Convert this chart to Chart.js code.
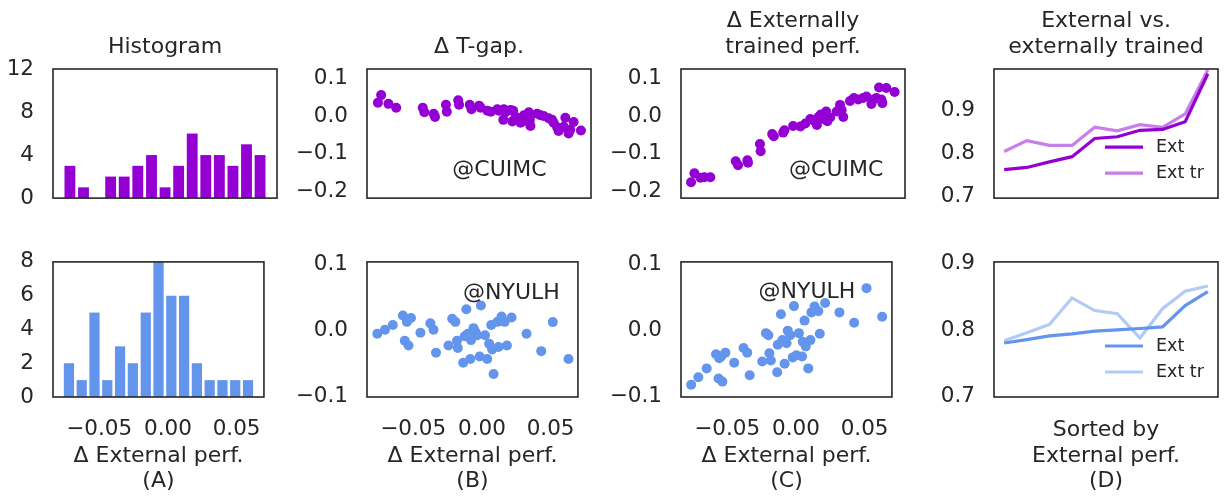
<!DOCTYPE html>
<html>
<head>
<meta charset="utf-8">
<script src="https://cdn.jsdelivr.net/npm/chart.js@4.4.1/dist/chart.umd.min.js"></script>
<style>
  body { margin: 0; background: #fff; width: 1225px; height: 498px; overflow: hidden; position: relative; }
  canvas { position: absolute; }
</style>
</head>
<body>
<canvas id="histTop" width="305" height="230" style="left:-22px;top:0"></canvas>
<canvas id="gapTop" width="305" height="230" style="left:292px;top:0"></canvas>
<canvas id="trTop" width="305" height="230" style="left:606px;top:0"></canvas>
<canvas id="sortTop" width="305" height="230" style="left:919px;top:0"></canvas>
<canvas id="histBot" width="305" height="268" style="left:-22px;top:230px"></canvas>
<canvas id="gapBot" width="305" height="268" style="left:292px;top:230px"></canvas>
<canvas id="trBot" width="305" height="268" style="left:606px;top:230px"></canvas>
<canvas id="sortBot" width="305" height="268" style="left:919px;top:230px"></canvas>
<script>
// histogram bins (centre of each bin, delta external perf.)
const binCenters = [-0.0720, -0.0627, -0.0534, -0.0441, -0.0348, -0.0255, -0.0161, -0.0068,
                    0.0025, 0.0118, 0.0211, 0.0304, 0.0397, 0.0490, 0.0583];
const histCuimc = [3, 1, 0, 2, 2, 3, 4, 1, 3, 6, 4, 4, 3, 5, 4];
const histNyulh = [2, 1, 5, 1, 3, 2, 5, 8, 6, 6, 2, 1, 1, 1, 1];

// [delta external perf, delta T-gap]
const tgapCuimc = [
  [-0.0761, 0.0356], [-0.0739, 0.0556], [-0.0689, 0.0324], [-0.0636, 0.0219], [-0.0454, 0.0219],
  [-0.0443, 0.0099], [-0.0379, 0.0060], [-0.0370, -0.0022], [-0.0295, 0.0300], [-0.0289, 0.0115],
  [-0.0211, 0.0420], [-0.0205, 0.0300], [-0.0132, 0.0300], [-0.0120, 0.0180], [-0.0068, 0.0276],
  [-0.0057, 0.0219], [-0.0011, 0.0140], [0.0012, 0.0115], [0.0057, 0.0180], [0.0068, 0.0140],
  [0.0102, 0.0180], [0.0114, 0.0099], [0.0098, -0.0101], [0.0148, 0.0163], [0.0166, 0.0140],
  [0.0160, -0.0142], [0.0182, -0.0022], [0.0216, -0.0180], [0.0239, 0.0019], [0.0250, -0.0125],
  [0.0273, 0.0099], [0.0280, -0.0101], [0.0284, -0.0262], [0.0330, 0.0060], [0.0353, 0.0019],
  [0.0375, 0.0003], [0.0409, -0.0060], [0.0432, -0.0101], [0.0443, -0.0180], [0.0467, -0.0300],
  [0.0477, -0.0397], [0.0512, -0.0286], [0.0523, -0.0046], [0.0546, -0.0462], [0.0557, -0.0365],
  [0.0580, -0.0157], [0.0630, -0.0382]
];
const tgapNyulh = [
  [-0.0761, -0.0048], [-0.0705, 0.0014], [-0.0648, 0.0086], [-0.0575, 0.0229], [-0.0546, 0.0133],
  [-0.0516, 0.0190], [-0.0561, -0.0152], [-0.0534, -0.0224], [-0.0447, -0.0033], [-0.0375, 0.0110],
  [-0.0352, 0.0014], [-0.0334, -0.0333], [-0.0243, -0.0224], [-0.0216, 0.0181], [-0.0193, 0.0133],
  [-0.0181, -0.0152], [-0.0175, -0.0262], [-0.0136, -0.0486], [-0.0113, 0.0324], [-0.0125, -0.0086],
  [-0.0102, -0.0048], [-0.0084, -0.0429], [-0.0079, -0.0143], [-0.0061, 0.0038], [-0.0045, -0.0024],
  [-0.0034, -0.0071], [-0.0016, -0.0390], [-0.0007, 0.0381], [0.0023, -0.0071], [0.0039, -0.0429],
  [0.0053, -0.0200], [0.0068, 0.0086], [0.0075, -0.0286], [0.0085, -0.0657], [0.0114, 0.0133],
  [0.0121, -0.0248], [0.0143, 0.0214], [0.0166, 0.0133], [0.0182, -0.0224], [0.0216, 0.0200],
  [0.0325, -0.0048], [0.0432, -0.0310], [0.0516, 0.0129], [0.0630, -0.0429]
];

// [delta external perf, delta externally trained perf]
const trCuimc = [
  [-0.0767, -0.1760], [-0.0744, -0.1520], [-0.0703, -0.1640], [-0.0676, -0.1624], [-0.0635, -0.1624],
  [-0.0461, -0.1200], [-0.0445, -0.1304], [-0.0381, -0.1176], [-0.0377, -0.1240], [-0.0295, -0.0744],
  [-0.0290, -0.0936], [-0.0211, -0.0480], [-0.0200, -0.0536], [-0.0136, -0.0440], [-0.0127, -0.0376],
  [-0.0068, -0.0264], [-0.0018, -0.0280], [0.0016, -0.0200], [0.0050, -0.0080], [0.0072, -0.0120],
  [0.0095, -0.0240], [0.0106, -0.0024], [0.0122, 0.0040], [0.0140, -0.0080], [0.0159, 0.0120],
  [0.0167, -0.0136], [0.0186, -0.0040], [0.0231, 0.0120], [0.0254, 0.0296], [0.0265, 0.0160],
  [0.0276, -0.0024], [0.0322, 0.0400], [0.0349, 0.0480], [0.0378, 0.0440], [0.0412, 0.0480],
  [0.0435, 0.0520], [0.0469, 0.0320], [0.0485, 0.0440], [0.0503, 0.0480], [0.0537, 0.0440],
  [0.0544, 0.0344], [0.0521, 0.0760], [0.0571, 0.0744], [0.0628, 0.0640]
];
const trNyulh = [
  [-0.0762, -0.0819], [-0.0710, -0.0705], [-0.0649, -0.0571], [-0.0581, -0.0357], [-0.0558, -0.0419],
  [-0.0544, -0.0390], [-0.0513, -0.0333], [-0.0563, -0.0724], [-0.0535, -0.0771], [-0.0449, -0.0486],
  [-0.0381, -0.0262], [-0.0354, -0.0333], [-0.0336, -0.0676], [-0.0245, -0.0467], [-0.0218, -0.0038],
  [-0.0200, -0.0071], [-0.0193, -0.0343], [-0.0182, -0.0452], [-0.0136, -0.0629], [-0.0132, -0.0214],
  [-0.0109, 0.0248], [-0.0098, -0.0143], [-0.0082, -0.0500], [-0.0068, -0.0190], [-0.0059, 0.0000],
  [-0.0041, -0.0071], [-0.0023, -0.0405], [-0.0014, 0.0371], [0.0004, -0.0371], [0.0022, -0.0038],
  [0.0045, -0.0390], [0.0050, -0.0167], [0.0063, 0.0152], [0.0072, -0.0238], [0.0090, -0.0571],
  [0.0106, -0.0143], [0.0113, 0.0276], [0.0136, 0.0367], [0.0163, 0.0295], [0.0174, -0.0048],
  [0.0213, 0.0419], [0.0317, 0.0276], [0.0424, 0.0119], [0.0514, 0.0643], [0.0628, 0.0210]
];

// sorted by external perf.
const ranks = [1, 2, 3, 4, 5, 6, 7, 8, 9, 10];
const extCuimc   = [0.763, 0.768, 0.781, 0.793, 0.835, 0.839, 0.854, 0.856, 0.874, 0.985];
const extTrCuimc = [0.805, 0.830, 0.819, 0.819, 0.861, 0.853, 0.867, 0.861, 0.892, 0.994];
const extNyulh   = [0.7805, 0.7857, 0.7914, 0.7943, 0.7986, 0.8005, 0.8024, 0.8048, 0.837, 0.858];
const extTrNyulh = [0.784, 0.796, 0.8086, 0.8486, 0.8295, 0.8248, 0.788, 0.8324, 0.8586, 0.8667];

const INK = '#262626';
const PURPLE = '#9400D3';
const PURPLE_LT = 'rgba(148, 0, 211, 0.5)';
const BLUE = '#6495ED';
const BLUE_LT = 'rgba(100, 149, 237, 0.5)';

Chart.defaults.font.family = '"DejaVu Sans", sans-serif';
Chart.defaults.font.size = 22;
Chart.defaults.color = INK;
Chart.defaults.animation = false;
Chart.defaults.plugins.legend.display = false;
Chart.defaults.plugins.tooltip.enabled = false;

const fmt = (digits) => (v) => {
  const r = Math.abs(v) < 1e-9 ? 0 : v;
  return r.toFixed(digits).replace('-', '\u2212');
};

// box round each plot area
const frame = {
  id: 'frame',
  afterDraw(chart) {
    const { ctx, chartArea: a } = chart;
    ctx.save();
    ctx.strokeStyle = INK;
    ctx.lineWidth = 1.6;
    ctx.strokeRect(a.left, a.top, a.right - a.left, a.bottom - a.top);
    ctx.restore();
  }
};

// "@CUIMC" / "@NYULH" text inside the plot
const tag = {
  id: 'tag',
  afterDatasetsDraw(chart, args, o) {
    if (!o || !o.text) return;
    const { ctx, chartArea: a } = chart;
    ctx.save();
    ctx.font = '22px "DejaVu Sans"';
    ctx.fillStyle = INK;
    ctx.textAlign = 'center';
    ctx.textBaseline = 'middle';
    ctx.fillText(o.text, a.left + o.fx * (a.right - a.left), a.top + o.fy * (a.bottom - a.top));
    ctx.restore();
  }
};

// legend at lower right of the sorted panels
const lineKey = {
  id: 'lineKey',
  afterDraw(chart, args, o) {
    if (!o || !o.show) return;
    const { ctx, chartArea: a } = chart;
    ctx.save();
    ctx.font = '17.5px "DejaVu Sans"';
    ctx.textAlign = 'left';
    ctx.textBaseline = 'middle';
    chart.data.datasets.forEach((ds, i) => {
      const y = a.bottom - 51 + i * 26;
      ctx.strokeStyle = ds.borderColor;
      ctx.lineWidth = 3.2;
      ctx.beginPath();
      ctx.moveTo(a.right - 113, y);
      ctx.lineTo(a.right - 75, y);
      ctx.stroke();
      ctx.fillStyle = INK;
      ctx.fillText(ds.label, a.right - 62, y);
    });
    ctx.restore();
  }
};

function titleOpt(text) {
  const lines = Array.isArray(text) ? text.length : 1;
  return {
    display: !!text,
    text: text,
    fullSize: false,
    color: INK,
    font: { size: 22, weight: 'normal', lineHeight: '25.5px' },
    padding: lines === 2 ? { top: 8.75, bottom: 9.25 } : { top: 34.25, bottom: 9.25 }
  };
}

function extAxis(bottomRow, label) {
  return {
    type: 'linear', min: -0.0836, max: 0.0699, offset: false,
    grid: { display: false, drawTicks: false }, border: { display: false },
    ticks: { display: bottomRow, stepSize: 0.05, includeBounds: false, padding: 20,
             font: { size: 21.5 }, maxRotation: 0, callback: fmt(2) },
    title: { display: bottomRow, text: ['\u0394 External perf.', label],
             padding: { top: 0, bottom: 3.5 }, font: { size: 22, lineHeight: '25.5px' } },
    afterFit: (s) => { s.height = bottomRow ? 101 : 18; }
  };
}

function valAxis(min, max, step, digits) {
  return {
    type: 'linear', min: min, max: max,
    grid: { display: false, drawTicks: false }, border: { display: false },
    ticks: { stepSize: step, includeBounds: false, padding: 19, font: { size: 21.5 },
             callback: digits === 0 ? (v) => String(v) : fmt(digits) },
    afterFit: (s) => { s.width = 75; }
  };
}

function layoutFor(bottomRow) {
  return { padding: { top: bottomRow ? 24 : 0, right: 6, bottom: 0, left: 0 } };
}

function histChart(id, counts, color, bottomRow, title, yMax, yStep) {
  return new Chart(document.getElementById(id), {
    type: 'bar',
    data: {
      datasets: [{
        data: binCenters.map((c, i) => ({ x: c, y: counts[i] })),
        backgroundColor: color,
        borderWidth: 0,
        barPercentage: 0.8,
        categoryPercentage: 1.0
      }]
    },
    options: {
      responsive: false,
      layout: layoutFor(bottomRow),
      plugins: { title: titleOpt(title) },
      scales: {
        x: extAxis(bottomRow, '(A)'),
        y: valAxis(0, yMax, yStep, 0)
      }
    },
    plugins: [frame]
  });
}

function scatterChart(id, pts, color, bottomRow, title, label, yMin, yMax, tagOpt) {
  return new Chart(document.getElementById(id), {
    type: 'scatter',
    data: {
      datasets: [{
        data: pts.map((p) => ({ x: p[0], y: p[1] })),
        backgroundColor: color,
        borderWidth: 0,
        pointRadius: 5,
        pointHoverRadius: 5
      }]
    },
    options: {
      responsive: false,
      layout: layoutFor(bottomRow),
      plugins: { title: titleOpt(title), tag: tagOpt },
      scales: {
        x: extAxis(bottomRow, label),
        y: valAxis(yMin, yMax, 0.1, 1)
      }
    },
    plugins: [tag, frame]
  });
}

function sortedChart(id, ext, extTr, color, colorLt, bottomRow, title, yMin, yMax) {
  return new Chart(document.getElementById(id), {
    type: 'line',
    data: {
      datasets: [
        { label: 'Ext', data: ranks.map((r, i) => ({ x: r, y: ext[i] })),
          borderColor: color, borderWidth: 3.2, pointRadius: 0, tension: 0 },
        { label: 'Ext tr', data: ranks.map((r, i) => ({ x: r, y: extTr[i] })),
          borderColor: colorLt, borderWidth: 3.2, pointRadius: 0, tension: 0 }
      ]
    },
    options: {
      responsive: false,
      layout: layoutFor(bottomRow),
      plugins: { title: titleOpt(title), lineKey: { show: true } },
      scales: {
        x: {
          type: 'linear', min: 0.55, max: 10.45,
          grid: { display: false, drawTicks: false }, border: { display: false },
          ticks: { display: false },
          title: { display: bottomRow, text: ['Sorted by', 'External perf.', '(D)'],
                   padding: { top: 0, bottom: 3.5 }, font: { size: 22, lineHeight: '25.5px' } },
          afterFit: (s) => { s.height = bottomRow ? 101 : 18; }
        },
        y: valAxis(yMin, yMax, 0.1, 1)
      }
    },
    plugins: [lineKey, frame]
  });
}

histChart('histTop', histCuimc, PURPLE, false, 'Histogram', 12, 4);
histChart('histBot', histNyulh, BLUE, true, null, 8, 2);

scatterChart('gapTop', tgapCuimc, PURPLE, false, '\u0394 T-gap.', '(B)', -0.218, 0.125,
             { text: '@CUIMC', fx: 0.5915, fy: 0.781 });
scatterChart('gapBot', tgapNyulh, BLUE, true, null, '(B)', -0.1004, 0.104,
             { text: '@NYULH', fx: 0.685, fy: 0.229 });

scatterChart('trTop', trCuimc, PURPLE, false, ['\u0394 Externally', 'trained perf.'], '(C)', -0.218, 0.125,
             { text: '@CUIMC', fx: 0.693, fy: 0.781 });
scatterChart('trBot', trNyulh, BLUE, true, null, '(C)', -0.1004, 0.104,
             { text: '@NYULH', fx: 0.597, fy: 0.224 });

sortedChart('sortTop', extCuimc, extTrCuimc, PURPLE, PURPLE_LT, false,
            ['External vs.', 'externally trained'], 0.697, 0.996);
sortedChart('sortBot', extNyulh, extTrNyulh, BLUE, BLUE_LT, true, null, 0.699, 0.903);
</script>
</body>
</html>
